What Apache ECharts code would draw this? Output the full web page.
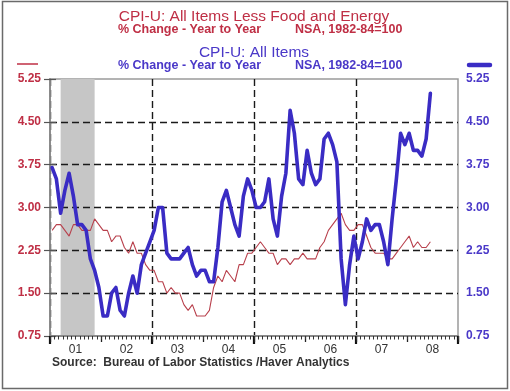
<!DOCTYPE html>
<html>
<head>
<meta charset="utf-8">
<script src="https://cdn.jsdelivr.net/npm/echarts@6/dist/echarts.min.js"></script>
<style>
html,body{margin:0;padding:0;background:#fff;}
#c{width:510px;height:391px;}
</style>
</head>
<body>
<div id="c"></div>
<script>
// Monthly data, Jan 2001 .. Jun 2008 (% change, year to year)
const yearLabels = ['01','02','03','04','05','06','07','08'];
const allItems = [
  3.7,3.5,2.9,3.3,3.6,3.2,2.7,2.7,2.6,2.1,1.9,1.6,
  1.1,1.1,1.5,1.6,1.2,1.1,1.5,1.8,1.5,2.0,2.2,2.4,
  2.6,3.0,3.0,2.2,2.1,2.1,2.1,2.2,2.3,2.0,1.8,1.9,
  1.9,1.7,1.7,2.3,3.1,3.3,3.0,2.7,2.5,3.2,3.5,3.3,
  3.0,3.0,3.1,3.5,2.8,2.5,3.2,3.6,4.7,4.3,3.5,3.4,
  4.0,3.6,3.4,3.5,4.2,4.3,4.1,3.8,2.1,1.3,2.0,2.5,
  2.1,2.4,2.8,2.6,2.7,2.7,2.4,2.0,2.8,3.5,4.3,4.1,
  4.3,4.0,4.0,3.9,4.2,5.0
];
const coreItems = [
  2.6,2.7,2.7,2.6,2.5,2.7,2.7,2.6,2.6,2.6,2.8,2.7,
  2.6,2.6,2.4,2.5,2.5,2.3,2.2,2.4,2.2,2.2,2.0,1.9,
  1.9,1.7,1.7,1.5,1.6,1.5,1.5,1.3,1.2,1.3,1.1,1.1,
  1.1,1.2,1.6,1.8,1.7,1.9,1.8,1.7,2.0,2.0,2.2,2.2,
  2.3,2.4,2.3,2.2,2.2,2.0,2.1,2.1,2.0,2.1,2.1,2.2,
  2.1,2.1,2.1,2.3,2.4,2.6,2.7,2.8,2.9,2.7,2.6,2.6,
  2.7,2.7,2.5,2.3,2.2,2.2,2.2,2.1,2.1,2.2,2.3,2.4,
  2.5,2.3,2.4,2.3,2.3,2.4
];
// Recession (months since Jan 2001): Mar 2001 .. Nov 2001
const recessionStartMonth = 2;
const recessionEndMonth = 10;
const yMin = 0.75, yMax = 5.25, yStep = 0.75;
const totalMonths = yearLabels.length * 12;

const toPts = arr => arr.map((v, i) => [i + 0.5, v]);

const RED = '#bf2f45';
const BLUE = '#4a38c8';
const FONT = 'Liberation Sans, Arial, sans-serif';

const chart = echarts.init(document.getElementById('c'));

const dashed = {color: '#1a1a1a', type: [7, 4], width: 1.4};

chart.setOption({
  animation: false,
  backgroundColor: '#fff',
  grid: {left: 50, right: 52, top: 79, bottom: 55, show: true, borderColor: '#9a9a9a', borderWidth: 1.5, backgroundColor: 'transparent'},
  xAxis: [
    {type: 'value', min: 0, max: totalMonths, interval: 24, position: 'bottom', z: 2,
     axisLine: {show: true, lineStyle: {color: '#8a8a8a', width: 2}},
     axisTick: {show: true, length: 8, lineStyle: {color: '#111', width: 2.2}},
     axisLabel: {show: false},
     splitLine: {show: true, showMaxLine: false, lineStyle: dashed}},
    {type: 'value', min: 0, max: totalMonths, interval: 12, position: 'bottom', z: 2,
     axisLine: {show: false}, axisTick: {show: true, length: 6, lineStyle: {color: '#222', width: 1.3}},
     axisLabel: {show: false}, splitLine: {show: false}},
    {type: 'value', min: 0, max: totalMonths, interval: 1, position: 'bottom', z: 2,
     axisLine: {show: false}, axisTick: {show: true, length: 3.5, lineStyle: {color: '#333', width: 1}},
     axisLabel: {show: false}, splitLine: {show: false}},
    {type: 'category', data: yearLabels, boundaryGap: true, position: 'bottom', z: 2,
     axisLine: {show: false}, axisTick: {show: false},
     axisLabel: {show: true, color: '#333', fontSize: 12, fontFamily: FONT, margin: 8}}
  ],
  yAxis: [
    {type: 'value', position: 'left', min: yMin, max: yMax, interval: yStep, z: 2,
     axisLine: {show: true, lineStyle: {color: '#8a8a8a', width: 1.5}},
     axisTick: {show: true, length: 6, lineStyle: {color: '#555', width: 1.2}},
     axisLabel: {color: RED, fontSize: 12, fontWeight: 'bold', fontFamily: FONT, margin: 9, formatter: v => v.toFixed(2)},
     splitLine: {show: true, showMinLine: false, showMaxLine: false, lineStyle: dashed}},
    {type: 'value', position: 'right', min: yMin, max: yMax, interval: yStep, z: 2,
     axisLine: {show: true, lineStyle: {color: '#8a8a8a', width: 1.5}},
     axisTick: {show: true, length: 6, lineStyle: {color: '#555', width: 1.2}},
     axisLabel: {color: BLUE, fontSize: 12, fontWeight: 'bold', fontFamily: FONT, margin: 8, formatter: v => v.toFixed(2)},
     splitLine: {show: false}}
  ],
  series: [
    {type: 'line', name: 'recession', xAxisIndex: 0, yAxisIndex: 0, data: [], z: 1, silent: true,
     markArea: {silent: true, itemStyle: {color: '#c6c6c6'},
       data: [[{xAxis: recessionStartMonth + 0.5, yAxis: yMin}, {xAxis: recessionEndMonth + 0.5, yAxis: yMax}]]}},
    {type: 'line', name: 'CPI-U: All Items Less Food and Energy', xAxisIndex: 0, yAxisIndex: 0,
     data: toPts(coreItems), showSymbol: false, z: 4,
     lineStyle: {color: '#b8404c', width: 1.1}},
    {type: 'line', name: 'CPI-U: All Items', xAxisIndex: 0, yAxisIndex: 1,
     data: toPts(allItems), showSymbol: false, z: 5,
     lineStyle: {color: '#3a2cc4', width: 3.6, join: 'round', cap: 'round'}}
  ],
  graphic: [
    {type: 'rect', shape: {x: 2.5, y: 1.5, width: 505, height: 387}, style: {fill: 'none', stroke: '#6a6a6a', lineWidth: 1.5}, z: 0},
    {type: 'text', x: 254, y: 17, style: {text: 'CPI-U: All Items Less Food and Energy', font: '15.5px ' + FONT, fill: RED, align: 'center', verticalAlign: 'middle'}},
    {type: 'text', x: 118, y: 29.5, style: {text: '% Change - Year to Year', font: 'bold 12.5px ' + FONT, fill: RED, align: 'left', verticalAlign: 'middle'}},
    {type: 'text', x: 295, y: 29.5, style: {text: 'NSA, 1982-84=100', font: 'bold 12.5px ' + FONT, fill: RED, align: 'left', verticalAlign: 'middle'}},
    {type: 'text', x: 254, y: 53, style: {text: 'CPI-U: All Items', font: '15.5px ' + FONT, fill: BLUE, align: 'center', verticalAlign: 'middle'}},
    {type: 'text', x: 118, y: 66, style: {text: '% Change - Year to Year', font: 'bold 12.5px ' + FONT, fill: BLUE, align: 'left', verticalAlign: 'middle'}},
    {type: 'text', x: 295, y: 66, style: {text: 'NSA, 1982-84=100', font: 'bold 12.5px ' + FONT, fill: BLUE, align: 'left', verticalAlign: 'middle'}},
    {type: 'line', shape: {x1: 17, y1: 64, x2: 38, y2: 64}, style: {stroke: RED, lineWidth: 1.5}},
    {type: 'line', shape: {x1: 469, y1: 65, x2: 490, y2: 65}, style: {stroke: '#3a2cc4', lineWidth: 4.5, lineCap: 'round'}},
    {type: 'text', x: 52, y: 363, style: {text: 'Source:  Bureau of Labor Statistics /Haver Analytics', font: 'bold 12px ' + FONT, fill: '#333', align: 'left', verticalAlign: 'middle'}}
  ]
});
</script>
</body>
</html>
